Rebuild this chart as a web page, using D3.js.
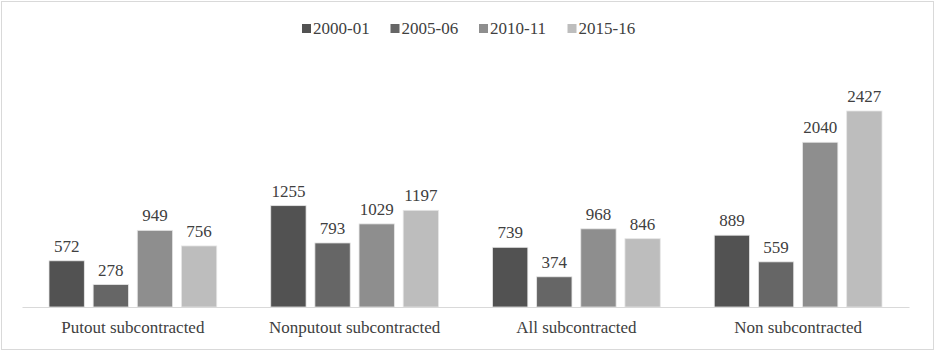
<!DOCTYPE html>
<html>
<head>
<meta charset="utf-8">
<script src="https://cdn.jsdelivr.net/npm/d3@7"></script>
</head>
<body style="margin:0">
<svg id="chart" width="936" height="354"></svg>
<script>
// chart data
var categories = ["Putout subcontracted", "Nonputout subcontracted", "All subcontracted", "Non subcontracted"];
var seriesNames = ["2000-01", "2005-06", "2010-11", "2015-16"];
var series2000 = [572, 1255, 739, 889];
var series2005 = [278, 793, 374, 559];
var series2010 = [949, 1029, 968, 2040];
var series2015 = [756, 1197, 846, 2427];
var seriesColors = ["#525252", "#666666", "#8e8e8e", "#bdbdbd"];

var seriesValues = [series2000, series2005, series2010, series2015];

var svg = d3.select("#chart");
var W = 936, H = 354;
var FONT = "Liberation Serif";
var FONT_SIZE = "17px";
var TEXT_COLOR = "#404040";

// outer frame
svg.append("rect")
   .attr("x", 1.5).attr("y", 1.5)
   .attr("width", W - 4).attr("height", H - 6)
   .attr("fill", "#fff")
   .attr("stroke", "#d9d9d9")
   .attr("stroke-width", 1);

var plot = {left: 22, right: 909, baseline: 307};

var x0 = d3.scaleBand()
           .domain(categories)
           .range([plot.left, plot.right]);

var x1 = d3.scaleBand()
           .domain(seriesNames)
           .range([27, x0.bandwidth() - 27])
           .paddingInner(0.2);

var y = d3.scaleLinear()
          .domain([0, 2427])
          .range([plot.baseline, 111]);

// flat list of bars, one per category and series
var bars = [];
categories.forEach(function (cat, ci) {
    seriesNames.forEach(function (s, si) {
        bars.push({cat: cat, name: s, value: seriesValues[si][ci], color: seriesColors[si]});
    });
});
function barX(d) { return x0(d.cat) + x1(d.name); }

svg.selectAll("rect.bar")
   .data(bars)
   .enter()
   .append("rect")
   .attr("class", "bar")
   .attr("x", barX)
   .attr("y", function (d) { return y(d.value); })
   .attr("width", x1.bandwidth())
   .attr("height", function (d) { return plot.baseline - y(d.value); })
   .attr("fill", function (d) { return d.color; })
   .attr("stroke", "#e6e6e6")
   .attr("stroke-width", 0.8);

// x axis: line only, labels drawn on the svg root below
var xaxisG = svg.append("g")
                .attr("transform", "translate(0," + plot.baseline + ")")
                .call(d3.axisBottom(x0).tickSize(0).tickFormat(""));
xaxisG.select(".domain").attr("stroke", "#d9d9d9").attr("stroke-width", 1.2);
xaxisG.selectAll(".tick").remove();

// value labels
bars.forEach(function (d) {
    svg.append("text")
       .attr("x", barX(d) + x1.bandwidth() / 2)
       .attr("y", y(d.value) - 9)
       .attr("text-anchor", "middle")
       .attr("fill", TEXT_COLOR)
       .style("font-family", FONT)
       .style("font-size", FONT_SIZE)
       .text(d.value);
});

// category labels
categories.forEach(function (cat) {
    svg.append("text")
       .attr("x", x0(cat) + x0.bandwidth() / 2)
       .attr("y", plot.baseline + 26)
       .attr("text-anchor", "middle")
       .attr("fill", TEXT_COLOR)
       .style("font-family", FONT)
       .style("font-size", FONT_SIZE)
       .text(cat);
});

// legend
var legendX = d3.scalePoint()
                .domain(seriesNames)
                .range([302, 302 + 3 * 88.5]);
seriesNames.forEach(function (s, i) {
    svg.append("rect")
       .attr("x", legendX(s))
       .attr("y", 24)
       .attr("width", 9).attr("height", 9)
       .attr("fill", seriesColors[i]);
    svg.append("text")
       .attr("x", legendX(s) + 11)
       .attr("y", 34)
       .attr("fill", TEXT_COLOR)
       .style("font-family", FONT)
       .style("font-size", FONT_SIZE)
       .text(s);
});
</script>
</body>
</html>
